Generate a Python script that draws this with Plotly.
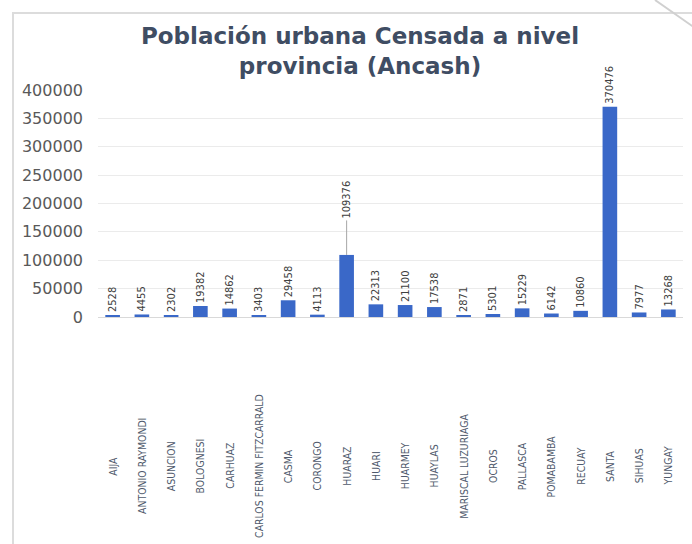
import plotly.graph_objects as go

provincias = ["AIJA", "ANTONIO RAYMONDI", "ASUNCION", "BOLOGNESI", "CARHUAZ",
              "CARLOS FERMIN FITZCARRALD", "CASMA", "CORONGO", "HUARAZ", "HUARI",
              "HUARMEY", "HUAYLAS", "MARISCAL LUZURIAGA", "OCROS", "PALLASCA",
              "POMABAMBA", "RECUAY", "SANTA", "SIHUAS", "YUNGAY"]
poblacion = [2528, 4455, 2302, 19382, 14862, 3403, 29458, 4113, 109376, 22313,
             21100, 17538, 2871, 5301, 15229, 6142, 10860, 370476, 7977, 13268]
y_ticks = [0, 50000, 100000, 150000, 200000, 250000, 300000, 350000, 400000]
leader_label = "HUARAZ"  # data label drawn with a leader line

W, H = 692, 544
L, R, T, B = 98, 9, 90, 227
pw, ph = W - L - R, H - T - B

def px2x(px):
    return (px - L) / pw

def py2y(py):
    return (H - B - py) / ph

narrow = "Liberation Sans Narrow, DejaVu Sans Condensed, Arial Narrow, sans-serif"
label_font = dict(family=narrow, size=11, color="#404040")

fig = go.Figure()
fig.add_trace(go.Bar(
    x=provincias, y=poblacion,
    marker=dict(color="#3a68c8", line=dict(width=0)),
    width=0.5,
    text=["" if p == leader_label else str(v) for p, v in zip(provincias, poblacion)],
    textposition="outside",
    textangle=-90,
    constraintext="none",
    textfont=label_font,
    cliponaxis=False,
    hoverinfo="skip",
))

for p, v in zip(provincias, poblacion):
    if p == leader_label:
        fig.add_annotation(x=p, y=v, xref="x", yref="y", text=str(v),
                           textangle=-90, showarrow=True, arrowhead=0,
                           arrowwidth=1, arrowcolor="#a6a6a6",
                           ax=0, ay=-55, font=label_font)

for p in provincias:
    fig.add_annotation(x=p, xref="x", y=py2y(466), yref="paper",
                       text=p, textangle=-90, showarrow=False,
                       xanchor="center", yanchor="middle",
                       font=dict(family=narrow, size=10.4, color="#4f5a6c"))

fig.update_layout(
    width=W, height=H,
    margin=dict(l=L, r=R, t=T, b=B, autoexpand=False),
    paper_bgcolor="white", plot_bgcolor="white",
    showlegend=False,
    title=dict(text="Población urbana Censada a nivel<br>provincia (Ancash)",
               x=px2x(360), xref="paper", xanchor="center",
               y=1 - 44 / H, yanchor="middle",
               font=dict(family="DejaVu Sans", size=23, color="#3f4d63", weight="bold")),
    xaxis=dict(showticklabels=False, showgrid=False, showline=True,
               linecolor="#d9d9d9", linewidth=1, ticks="",
               range=[-0.5, len(provincias) - 0.5]),
    yaxis=dict(range=[0, 400000], tickvals=y_ticks,
               ticktext=[str(v) for v in y_ticks],
               showgrid=True, gridcolor="#ebebeb", gridwidth=1,
               zeroline=False, ticks="", ticklabelstandoff=14,
               tickfont=dict(family="DejaVu Sans", size=16, color="#595959")),
    shapes=[
        dict(type="rect", xref="paper", yref="paper",
             x0=px2x(13), x1=px2x(710), y0=py2y(560), y1=py2y(13),
             line=dict(color="#dcdcdc", width=2), fillcolor="rgba(0,0,0,0)",
             layer="below"),
        dict(type="line", xref="paper", yref="paper",
             x0=px2x(655), y0=py2y(0), x1=px2x(695), y1=py2y(28),
             line=dict(color="#d0d0d0", width=2)),
    ],
)

fig.write_html("out.html", config={"displayModeBar": False},
               post_script="document.body.style.margin='0';document.body.style.overflow='hidden';")
